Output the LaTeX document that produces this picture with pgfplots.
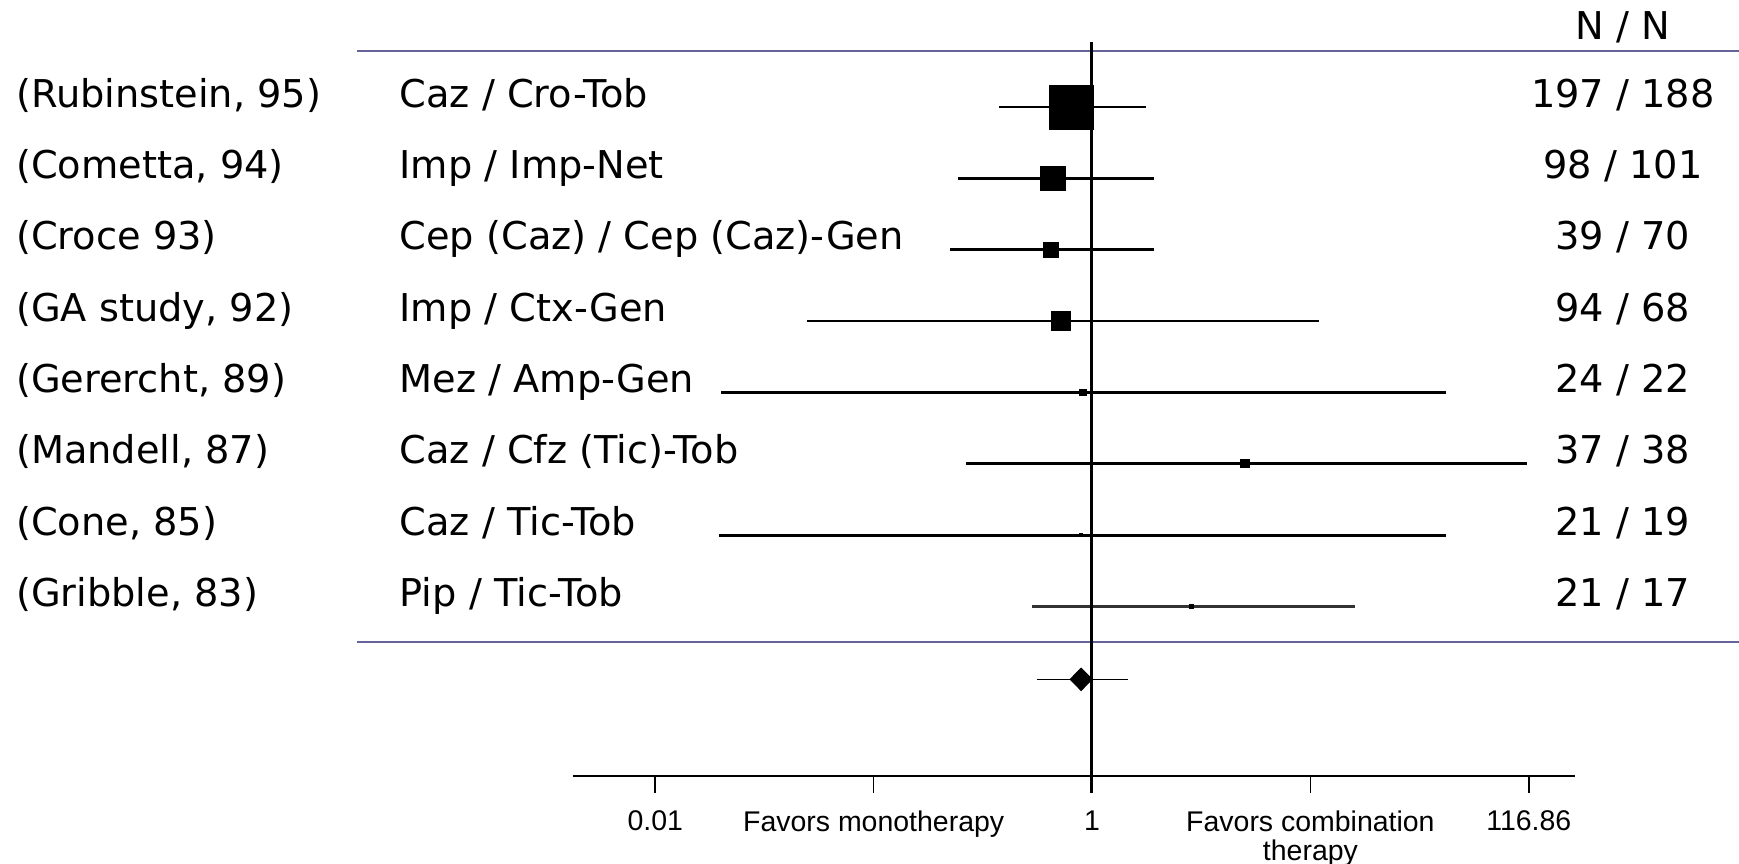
\documentclass[border=0pt]{standalone}
\usepackage{pgfplots}
\pgfplotsset{compat=1.18}
\usepackage{pgfplotstable}
\usepackage{fontspec}
\setmainfont{DejaVu Sans}
\newfontfamily\axfont{Liberation Sans}
\definecolor{rulecol}{RGB}{100,100,155}
\newcommand\lblfont{\fontsize{10.9}{13}\selectfont}

% row position (px from top), odds ratio, CI low, CI high, square side (px)
\pgfplotstableread{
y     or     lo      hi     side
107.3 0.808  0.377   1.77   44
178.6 0.663  0.243   1.92   24
249.9 0.649  0.225   1.92   14
321.2 0.721  0.0496  10.97  18
392.5 0.908  0.0201  42.0   6.5
463.8 5.01   0.266   98.6   8
535.1 0.89   0.0196  42.0   3
606.4 2.86   0.531   16.0   4
}\studies

\begin{document}
\begin{tikzpicture}
\useasboundingbox (0,0) rectangle (17.39cm,8.64cm);
\begin{axis}[
  at={(0,0)}, anchor=south west,
  scale only axis, width=17.39cm, height=8.64cm,
  xmode=log, xmin=1e-5, xmax=917.6,
  ymin=0, ymax=864, y dir=reverse,
  hide axis, clip=false,
]
% separator lines
\draw[rulecol, line width=0.65pt] (axis cs:4.31e-4,51) -- (axis cs:917.6,51);
\draw[rulecol, line width=0.65pt] (axis cs:4.31e-4,641.7) -- (axis cs:917.6,641.7);

% confidence intervals
\addplot[black, line width=0.45pt] coordinates {(0.377,107.3) (1.77,107.3)};
\addplot[black, line width=0.85pt] coordinates {(0.243,178.6) (1.92,178.6)};
\addplot[black, line width=0.85pt] coordinates {(0.225,249.9) (1.92,249.9)};
\addplot[black, line width=0.45pt] coordinates {(0.0496,321.2) (10.97,321.2)};
\addplot[black, line width=0.6pt] coordinates {(0.0201,392.5) (42.0,392.5)};
\addplot[black, line width=0.85pt] coordinates {(0.266,463.8) (98.6,463.8)};
\addplot[black, line width=0.8pt] coordinates {(0.0196,535.1) (42.0,535.1)};
\addplot[black!80, line width=0.7pt] coordinates {(0.531,606.4) (16.0,606.4)};
\addplot[black, line width=0.45pt] coordinates {(0.561,679.3) (1.459,679.3)};

% study estimates
\addplot[only marks, mark=square*, scatter,
  scatter/use mapped color={draw=black, fill=black},
  visualization depends on={0.14226*\thisrow{side} \as \msz},
  scatter/@pre marker code/.append style={/tikz/mark size=\msz pt, /tikz/line width=0pt},
] table[x=or, y=y] {\studies};

% pooled estimate
\addplot[only marks, mark=diamond*, mark size=3.1pt, black,
  mark options={xscale=1.3}] coordinates {(0.892,679.3)};

% line of no effect
\draw[black, line width=0.85pt] (axis cs:1,42) -- (axis cs:1,793);

% header
\node[anchor=base, inner sep=0, font=\lblfont] at (axis cs:270,40) {N / N};

% study labels
\foreach \yy/\st/\rg/\nn in {
  107.3/{(Rubinstein, 95)}/{Caz / Cro-Tob}/{197 / 188},
  178.6/{(Cometta, 94)}/{Imp / Imp-Net}/{98 / 101},
  249.9/{(Croce 93)}/{Cep (Caz) / Cep (Caz)-Gen}/{39 / 70},
  321.2/{(GA study, 92)}/{Imp / Ctx-Gen}/{94 / 68},
  392.5/{(Gerercht, 89)}/{Mez / Amp-Gen}/{24 / 22},
  463.8/{(Mandell, 87)}/{Caz / Cfz (Tic)-Tob}/{37 / 38},
  535.1/{(Cone, 85)}/{Caz / Tic-Tob}/{21 / 19},
  606.4/{(Gribble, 83)}/{Pip / Tic-Tob}/{21 / 17}}{
  \edef\temp{\noexpand\node[anchor=base west, inner sep=0, font=\noexpand\lblfont] at (axis cs:1.178e-5,\yy) {\st};
    \noexpand\node[anchor=base west, inner sep=0, font=\noexpand\lblfont] at (axis cs:6.71e-4,\yy) {\rg};
    \noexpand\node[anchor=base, inner sep=0, font=\noexpand\lblfont] at (axis cs:270,\yy) {\nn};}
  \temp
}
\end{axis}

\begin{axis}[
  at={(5.73cm,0.88cm)}, anchor=south west,
  scale only axis, width=10.02cm, height=1cm,
  xmode=log, xmin=0.0042, xmax=162.8, ymin=0, ymax=1,
  axis x line=bottom, axis y line=none,
  x axis line style={-, line width=0.55pt},
  xtick={0.01,0.1,1,10,100},
  xticklabels={0.01, Favors monotherapy, 1, {Favors combination\\therapy}, 116.86},
  xminorticks=false,
  tick align=outside, major tick length=0.17cm,
  every tick/.style={black, line width=0.45pt},
  xticklabel style={font=\axfont\fontsize{8.1}{8.2}\selectfont, align=center, yshift=-1.6pt},
]
\end{axis}
\end{tikzpicture}
\end{document}
